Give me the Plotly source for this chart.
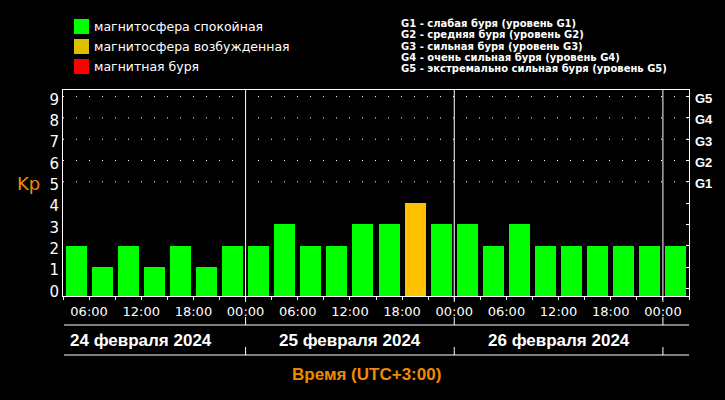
import plotly.graph_objects as go
import pandas as pd

# Kp index, 3-hour intervals, Moscow time (UTC+3)
TIMES = [
    "2024-02-24 03:00", "2024-02-24 06:00", "2024-02-24 09:00", "2024-02-24 12:00",
    "2024-02-24 15:00", "2024-02-24 18:00", "2024-02-24 21:00", "2024-02-25 00:00",
    "2024-02-25 03:00", "2024-02-25 06:00", "2024-02-25 09:00", "2024-02-25 12:00",
    "2024-02-25 15:00", "2024-02-25 18:00", "2024-02-25 21:00", "2024-02-26 00:00",
    "2024-02-26 03:00", "2024-02-26 06:00", "2024-02-26 09:00", "2024-02-26 12:00",
    "2024-02-26 15:00", "2024-02-26 18:00", "2024-02-26 21:00", "2024-02-27 00:00",
]
KP = [2, 1, 2, 1, 2, 1, 2,
      2, 3, 2, 2, 3, 3, 4, 3,
      3, 2, 3, 2, 2, 2, 2, 2,
      2]
X_END = "2024-02-27 03:00"
DAY_BREAKS = ["2024-02-25 00:00", "2024-02-26 00:00", "2024-02-27 00:00"]
DAY_NOONS = ["2024-02-24 12:00", "2024-02-25 12:00", "2024-02-26 12:00"]
DAY_LABELS = ["24 февраля 2024", "25 февраля 2024", "26 февраля 2024"]
G_LEVELS = [5, 6, 7, 8, 9]
G_NAMES = ["G1", "G2", "G3", "G4", "G5"]
G_TEXTS = [
    "G1 - слабая буря (уровень G1)",
    "G2 - средняя буря (уровень G2)",
    "G3 - сильная буря (уровень G3)",
    "G4 - очень сильная буря (уровень G4)",
    "G5 - экстремально сильная буря (уровень G5)",
]
LEGEND_TEXTS = ["магнитосфера спокойная", "магнитосфера возбужденная", "магнитная буря"]

GREEN = "#00FF00"
YELLOW = "#FFC000"
RED = "#FF0000"
ORANGE = "#F08A00"
LEGEND_COLORS = [GREEN, "#DDBF00", RED]

Y_MIN, Y_MAX = -0.36, 9.31
STEP_MS = 3 * 3600 * 1000
BAR_W = STEP_MS * 21 / 26

NARROW = "Liberation Sans Narrow, Arial Narrow, Liberation Sans, sans-serif"
PLAIN = "DejaVu Sans, sans-serif"

# plot area in pixels
L, R, T, B = 63, 689, 90, 296


def px_x(x):
    return (x - L) / (R - L)


def px_y(y):
    return (B - y) / (B - T)


def bar_color(v):
    if v >= 5:
        return RED
    if v >= 4:
        return YELLOW
    return GREEN


tick_vals = TIMES + [X_END]
tick_text = [t.strftime("%H:%M") if t.hour % 6 == 0 else "" for t in pd.to_datetime(tick_vals)]

fig = go.Figure()
fig.add_trace(go.Bar(
    x=TIMES, y=[v - Y_MIN for v in KP], base=Y_MIN,
    xperiod=STEP_MS, xperiodalignment="middle", width=BAR_W,
    marker=dict(color=[bar_color(v) for v in KP], line=dict(width=0)),
    hoverinfo="skip", showlegend=False,
))
# invisible trace to activate the right axis
fig.add_trace(go.Scatter(x=[TIMES[0]], y=[0], yaxis="y2", mode="markers",
                         marker=dict(opacity=0), hoverinfo="skip", showlegend=False))

shapes = []
for lvl in G_LEVELS:
    shapes.append(dict(type="line", xref="paper", yref="y", x0=0, x1=1, y0=lvl, y1=lvl,
                       line=dict(color="white", width=1, dash="1px,12px"), layer="above"))
for d in DAY_BREAKS:
    shapes.append(dict(type="line", xref="x", yref="paper", x0=d, x1=d, y0=0, y1=1,
                       line=dict(color="white", width=1), layer="above"))
    for y0, y1 in [(296, 302), (317, 325), (347, 355)]:
        shapes.append(dict(type="line", xref="x", yref="paper", x0=d, x1=d,
                           y0=px_y(y0), y1=px_y(y1), line=dict(color="white", width=1)))
for y in [325, 355]:
    shapes.append(dict(type="line", xref="paper", yref="paper", x0=px_x(64), x1=1,
                       y0=px_y(y), y1=px_y(y), line=dict(color="white", width=1)))
for i, c in enumerate(LEGEND_COLORS):
    shapes.append(dict(type="rect", xref="paper", yref="paper",
                       x0=px_x(74), x1=px_x(89), y0=px_y(19 + 20 * i), y1=px_y(34 + 20 * i),
                       fillcolor=c, line=dict(width=0)))

annotations = []
for i, t in enumerate(LEGEND_TEXTS):
    annotations.append(dict(text=t, xref="paper", yref="paper", x=px_x(92), y=px_y(26.5 + 20 * i),
                            xanchor="left", yanchor="middle", showarrow=False,
                            font=dict(family=PLAIN, size=12.5, color="white")))
for i, t in enumerate(G_TEXTS):
    annotations.append(dict(text=t, xref="paper", yref="paper", x=px_x(399), y=px_y(24 + 11 * i),
                            xanchor="left", yanchor="middle", showarrow=False,
                            font=dict(family=PLAIN, size=10, color="white", weight="bold")))
for d, t in zip(DAY_NOONS, DAY_LABELS):
    annotations.append(dict(text=t, xref="x", yref="paper", x=d, y=px_y(340),
                            xanchor="center", yanchor="middle", showarrow=False,
                            font=dict(family=NARROW, size=17, color="white", weight="bold")))
annotations.append(dict(text="Время (UTC+3:00)", xref="paper", yref="paper", x=px_x(366), y=px_y(374),
                        xanchor="center", yanchor="middle", showarrow=False,
                        font=dict(family=NARROW, size=17, color=ORANGE, weight="bold")))
annotations.append(dict(text="Kp", xref="paper", yref="paper", x=px_x(28), y=px_y(183),
                        xanchor="center", yanchor="middle", showarrow=False,
                        font=dict(family=PLAIN, size=18, color=ORANGE)))

fig.update_layout(
    width=725, height=400,
    margin=dict(l=L, r=725 - R, t=T, b=400 - B),
    paper_bgcolor="black", plot_bgcolor="black",
    bargap=0,
    xaxis=dict(
        type="date", range=[TIMES[0], X_END],
        tickmode="array", tickvals=tick_vals, ticktext=tick_text,
        ticks="outside", ticklen=3, tickcolor="white",
        tickfont=dict(family=PLAIN, size=13, color="white"),
        showgrid=False, zeroline=False,
        showline=True, linecolor="white", linewidth=1, mirror=True,
    ),
    yaxis=dict(
        range=[Y_MIN, Y_MAX], tickmode="array", tickvals=list(range(10)),
        ticks="", ticklabelshift=3,
        tickfont=dict(family=PLAIN, size=15, color="white"),
        showgrid=False, zeroline=False,
        showline=True, linecolor="white", linewidth=1, mirror=True,
    ),
    yaxis2=dict(
        overlaying="y", side="right", range=[Y_MIN, Y_MAX],
        tickmode="array", tickvals=list(range(10)),
        ticktext=["", "", "", "", ""] + G_NAMES,
        ticks="inside", ticklen=3, tickcolor="white",
        ticklabelstandoff=5, ticklabelshift=2,
        tickfont=dict(family=NARROW, size=13, color="white", weight="bold"),
        showgrid=False, zeroline=False, showline=False,
    ),
    shapes=shapes,
    annotations=annotations,
)

fig.write_html("out.html", config={"displayModeBar": False},
               post_script="document.body.style.margin='0';")
